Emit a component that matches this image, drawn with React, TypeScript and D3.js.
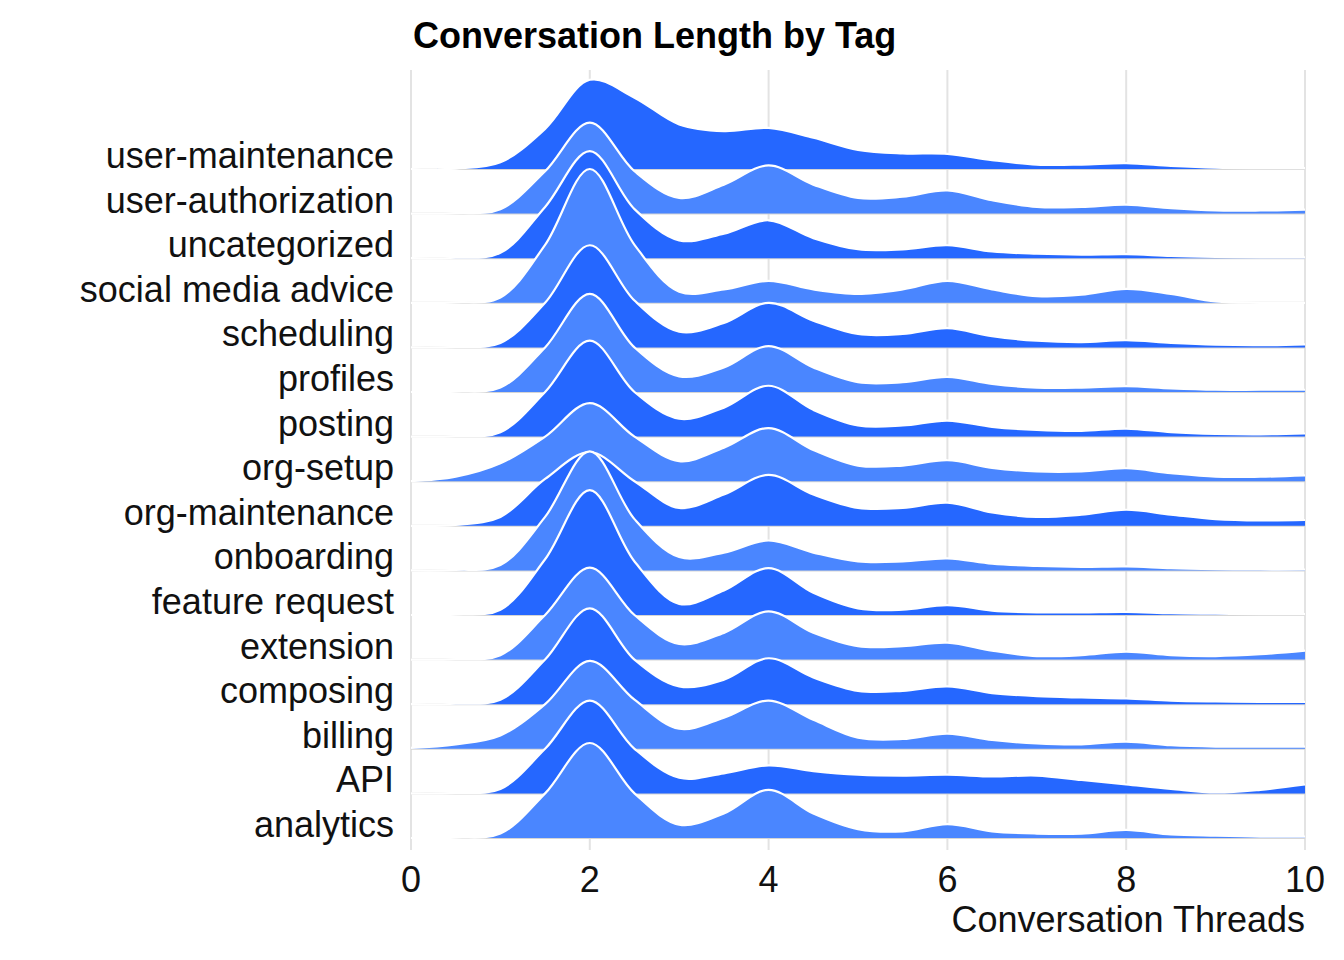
import * as d3 from "d3";

const width = 1344;
const height = 960;

// x grid for the density samples
const xs = d3.range(0, 10.01, 0.5);

const tags = [
  "analytics", "API", "billing", "composing", "extension", "feature request",
  "onboarding", "org-maintenance", "org-setup", "posting", "profiles",
  "scheduling", "social media advice", "uncategorized", "user-authorization",
  "user-maintenance",
];

// density heights, in units of one row spacing, at x = 0, 0.5, ..., 10
const analytics = [0, 0.01, 0.1, 1.0, 2.13, 1.0, 0.3, 0.55, 1.08, 0.55, 0.2, 0.15, 0.31, 0.15, 0.1, 0.1, 0.18, 0.08, 0.05, 0.03, 0.03];
const api = [0, 0.01, 0.1, 1.0, 2.08, 1.0, 0.35, 0.45, 0.63, 0.5, 0.42, 0.4, 0.42, 0.38, 0.4, 0.3, 0.2, 0.1, 0.02, 0.08, 0.2];
const billing = [0.02, 0.1, 0.3, 1.0, 1.97, 1.1, 0.45, 0.7, 1.08, 0.65, 0.25, 0.22, 0.34, 0.2, 0.12, 0.1, 0.16, 0.08, 0.05, 0.05, 0.05];
const composing = [0, 0.01, 0.1, 1.0, 2.15, 1.0, 0.4, 0.55, 1.03, 0.6, 0.3, 0.3, 0.4, 0.25, 0.18, 0.15, 0.13, 0.08, 0.06, 0.05, 0.05];
const extension = [0, 0.01, 0.1, 1.0, 2.06, 1.0, 0.35, 0.6, 1.08, 0.6, 0.3, 0.3, 0.38, 0.2, 0.08, 0.1, 0.18, 0.1, 0.08, 0.12, 0.2];
const featureRequest = [0, 0.01, 0.12, 1.25, 2.8, 1.2, 0.25, 0.55, 1.05, 0.5, 0.15, 0.12, 0.22, 0.1, 0.06, 0.06, 0.07, 0.04, 0.03, 0.02, 0.02];
const onboarding = [0, 0.01, 0.12, 1.2, 2.67, 1.15, 0.3, 0.4, 0.67, 0.4, 0.2, 0.2, 0.27, 0.15, 0.1, 0.08, 0.09, 0.05, 0.03, 0.02, 0.02];
const orgMaintenance = [0, 0.02, 0.2, 1.05, 1.65, 1.0, 0.4, 0.7, 1.14, 0.7, 0.4, 0.4, 0.52, 0.3, 0.2, 0.25, 0.36, 0.25, 0.15, 0.12, 0.13];
const orgSetup = [0, 0.1, 0.4, 1.0, 1.75, 1.0, 0.45, 0.75, 1.19, 0.7, 0.35, 0.35, 0.47, 0.3, 0.22, 0.22, 0.29, 0.18, 0.1, 0.1, 0.13];
const posting = [0, 0.01, 0.1, 1.0, 2.15, 1.0, 0.4, 0.65, 1.14, 0.6, 0.25, 0.25, 0.36, 0.22, 0.15, 0.13, 0.18, 0.1, 0.06, 0.05, 0.07];
const profiles = [0, 0.01, 0.1, 1.0, 2.2, 1.0, 0.35, 0.55, 1.03, 0.55, 0.22, 0.22, 0.34, 0.18, 0.1, 0.1, 0.13, 0.08, 0.05, 0.05, 0.05];
const scheduling = [0, 0.01, 0.1, 1.0, 2.29, 1.05, 0.35, 0.55, 1.0, 0.6, 0.3, 0.3, 0.43, 0.25, 0.15, 0.12, 0.16, 0.1, 0.06, 0.05, 0.07];
const socialMedia = [0, 0.01, 0.12, 1.3, 3.0, 1.3, 0.25, 0.3, 0.49, 0.3, 0.2, 0.3, 0.49, 0.3, 0.15, 0.18, 0.31, 0.2, 0.03, 0.0, 0.0];
const uncategorized = [0, 0.01, 0.12, 1.15, 2.4, 1.1, 0.4, 0.55, 0.85, 0.45, 0.2, 0.2, 0.29, 0.15, 0.1, 0.08, 0.09, 0.05, 0.03, 0.02, 0.02];
const userAuthorization = [0, 0.01, 0.1, 0.95, 2.04, 0.95, 0.35, 0.65, 1.08, 0.65, 0.35, 0.38, 0.52, 0.3, 0.15, 0.15, 0.2, 0.12, 0.07, 0.07, 0.09];
const userMaintenance = [0, 0.01, 0.15, 0.9, 2.0, 1.6, 1.0, 0.85, 0.92, 0.7, 0.43, 0.35, 0.34, 0.2, 0.1, 0.1, 0.13, 0.07, 0.03, 0.02, 0.02];

const densities = [
  analytics, api, billing, composing, extension, featureRequest, onboarding,
  orgMaintenance, orgSetup, posting, profiles, scheduling, socialMedia,
  uncategorized, userAuthorization, userMaintenance,
];

const xTicks = [0, 2, 4, 6, 8, 10];

const dark = "#2567ff";
const light = "#4a86ff";

const left = 411;
const right = 1305;
const bottomBase = 838;
const step = 44.6;

const x = d3.scaleLinear().domain([0, 10]).range([left, right]);
const rowY = d3.scaleLinear().domain([0, tags.length - 1]).range([bottomBase, bottomBase - step * (tags.length - 1)]);
const h = d3.scaleLinear().domain([0, 1]).range([0, step]);

const App = () => {
  const order = d3.range(tags.length).reverse(); // top drawn first, bottom in front
  const curve = d3.curveCatmullRom.alpha(0.5);
  return (
    <svg width={width} height={height} style={{ position: "absolute", left: 0, top: 0 }}
      fontFamily="'Liberation Sans', Arial, sans-serif">
      {xTicks.map(t => (
        <line key={t} x1={x(t)} x2={x(t)} y1={70} y2={850} stroke="#e3e3e3" strokeWidth={2} />
      ))}
      {order.map(i => {
        const base = rowY(i);
        const pts = xs.map((xv, k) => [xv, densities[i][k]] as [number, number]);
        const top = (d: [number, number]) => Math.min(base, base - h(d[1]));
        const area = d3.area<[number, number]>()
          .x(d => x(d[0])).y0(base).y1(top).curve(curve);
        const line = d3.line<[number, number]>()
          .x(d => x(d[0])).y(top).curve(curve);
        return (
          <g key={tags[i]}>
            <line x1={x(0)} x2={x(10)} y1={base} y2={base} stroke="#d5d5d5" strokeWidth={2} />
            <path d={area(pts) ?? ""} fill={i % 2 === 0 ? light : dark} />
            <path d={line(pts) ?? ""} fill="none" stroke="white" strokeWidth={2.2} />
          </g>
        );
      })}
      {tags.map((t, i) => (
        <text key={t} x={394} y={rowY(i) - 1} textAnchor="end" fontSize={36} fill="#111">{t}</text>
      ))}
      {xTicks.map(t => (
        <text key={t} x={x(t)} y={892} textAnchor="middle" fontSize={36} fill="#111">{t}</text>
      ))}
      <text x={right} y={932} textAnchor="end" fontSize={36} fill="#111">Conversation Threads</text>
      <text x={413} y={48} fontSize={36} fontWeight="bold" fill="#000">Conversation Length by Tag</text>
    </svg>
  );
};

export default App;
